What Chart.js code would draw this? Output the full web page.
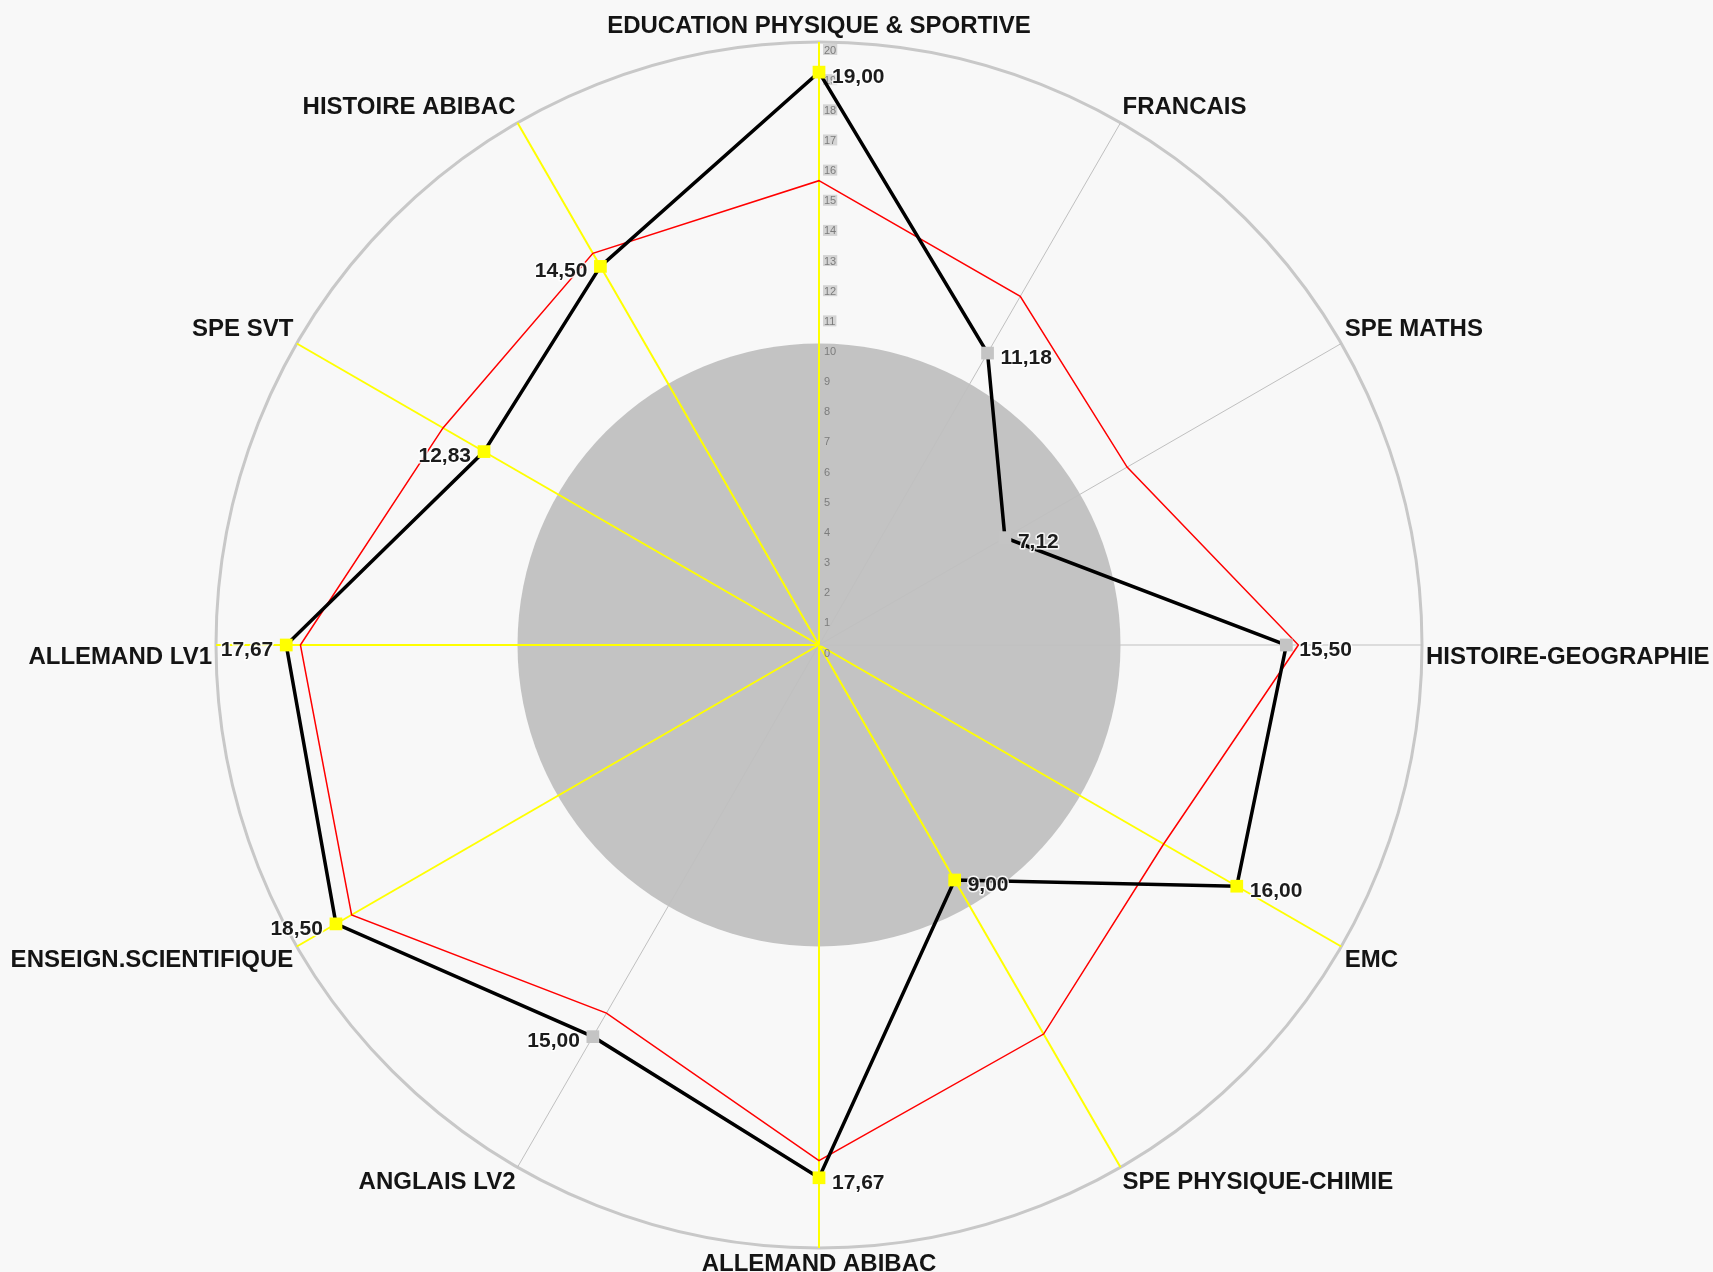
<!DOCTYPE html>
<html lang="fr">
<head>
<meta charset="utf-8">
<title>Profil de l'élève</title>
<script src="https://cdn.jsdelivr.net/npm/chart.js@4.4.1/dist/chart.umd.min.js"></script>
<style>
    html, body { margin: 0; padding: 0; background: #f8f8f8; overflow: hidden; }
    #cadre { position: relative; width: 1713px; height: 1272px; overflow: hidden; background: #f8f8f8; }
    /* zone du graphique plus large que la page : le centre du radar tombe à x=819, y=645 */
    #zone { position: absolute; left: -150px; top: 14px; width: 1938px; height: 1262px; }
</style>
</head>
<body>
<div id="cadre"><div id="zone"><canvas id="radarChart"></canvas></div></div>
<script>
// Matières dans l'ordre des axes (en partant du haut, sens horaire)
const matieres = [
    "EDUCATION PHYSIQUE & SPORTIVE",
    "FRANCAIS",
    "SPE MATHS",
    "HISTOIRE-GEOGRAPHIE",
    "EMC",
    "SPE PHYSIQUE-CHIMIE",
    "ALLEMAND ABIBAC",
    "ANGLAIS LV2",
    "ENSEIGN.SCIENTIFIQUE",
    "ALLEMAND LV1",
    "SPE SVT",
    "HISTOIRE ABIBAC"
];

// Moyennes de l'élève (ligne noire)
const notesEleve = [19.00, 11.18, 7.12, 15.50, 16.00, 9.00, 17.67, 15.00, 18.50, 17.67, 12.83, 14.50];

// Moyennes de la classe (ligne rouge)
const moyenneClasse = [15.4, 13.35, 11.8, 15.9, 13.2, 14.9, 17.1, 14.1, 17.9, 17.2, 14.4, 15.0];

// Axes surlignés en jaune
const axesJaunes = [true, false, false, false, true, true, true, false, true, true, true, true];

// Graduations de l'échelle
const noteMin = 0;
const noteMax = 20;
const pasGraduation = 1;
const seuilMoyenne = 10;

const POLICE = '"Liberation Sans", Arial, sans-serif';

// Disque gris jusqu'à la moyenne (10/20)
const fondDisque = {
    id: 'fondDisque',
    beforeDraw(chart) {
        const ctx = chart.ctx;
        const r = chart.scales.r;
        ctx.save();
        ctx.fillStyle = '#f8f8f8';
        ctx.fillRect(0, 0, chart.width, chart.height);
        ctx.fillStyle = '#c3c3c3';
        ctx.beginPath();
        ctx.arc(r.xCenter, r.yCenter, r.getDistanceFromCenterForValue(seuilMoyenne), 0, Math.PI * 2);
        ctx.fill();
        ctx.restore();
    }
};

// Petites graduations 0..20 le long de l'axe vertical
const graduationsAxe = {
    id: 'graduationsAxe',
    beforeDatasetsDraw(chart) {
        const ctx = chart.ctx;
        const r = chart.scales.r;
        ctx.save();
        ctx.font = '11px ' + POLICE;
        ctx.textAlign = 'left';
        ctx.textBaseline = 'top';
        r.ticks.forEach(t => {
            const x = r.xCenter + 5;
            const y = r.yCenter - r.getDistanceFromCenterForValue(t.value) + 2;
            const w = ctx.measureText(t.label).width;
            if (t.value > seuilMoyenne) {
                ctx.fillStyle = '#d4d4d4';
                ctx.fillRect(x - 1, y, w + 2, 11);
            }
            ctx.fillStyle = '#7c7c7c';
            ctx.fillText(t.label, x, y + 1);
        });
        ctx.restore();
    }
};

// Valeurs de l'élève à côté de chaque point
const etiquettesNotes = {
    id: 'etiquettesNotes',
    afterDatasetsDraw(chart) {
        const ctx = chart.ctx;
        const meta = chart.getDatasetMeta(0);
        ctx.save();
        ctx.font = 'bold 21px ' + POLICE;
        ctx.textBaseline = 'middle';
        ctx.lineJoin = 'round';
        meta.data.forEach((pt, i) => {
            const texte = notesEleve[i].toFixed(2).replace('.', ',');
            const aGauche = i > matieres.length / 2;
            ctx.textAlign = aGauche ? 'right' : 'left';
            const x = pt.x + (aGauche ? -13 : 13);
            const y = pt.y + 5;
            ctx.strokeStyle = 'rgba(255,255,255,0.85)';
            ctx.lineWidth = 3;
            ctx.strokeText(texte, x, y);
            ctx.fillStyle = '#1c1c1c';
            ctx.fillText(texte, x, y);
        });
        ctx.restore();
    }
};

Chart.defaults.font.family = POLICE;

new Chart(document.getElementById('radarChart'), {
    type: 'radar',
    data: {
        labels: matieres,
        datasets: [{
            label: 'Élève',
            data: notesEleve,
            borderColor: '#000000',
            borderWidth: 3.5,
            fill: false,
            pointStyle: 'rect',
            pointRadius: 9,
            pointHoverRadius: 9,
            pointBorderWidth: 0,
            pointBackgroundColor: axesJaunes.map(j => j ? '#ffff00' : '#c4c4c4')
        }, {
            label: 'Classe',
            data: moyenneClasse,
            borderColor: '#ff0000',
            borderWidth: 1.5,
            fill: false,
            pointRadius: 0,
            pointHoverRadius: 0
        }]
    },
    options: {
        responsive: true,
        maintainAspectRatio: false,
        animation: false,
        plugins: {
            legend: { display: false },
            tooltip: { enabled: false }
        },
        elements: { line: { tension: 0 } },
        scales: {
            r: {
                min: noteMin,
                max: noteMax,
                ticks: { stepSize: pasGraduation, display: false },
                grid: {
                    circular: true,
                    color: c => c.tick && c.tick.value === noteMax ? '#c8c8c8' : 'rgba(0,0,0,0)',
                    lineWidth: c => c.tick && c.tick.value === noteMax ? 3 : 0
                },
                angleLines: {
                    color: c => axesJaunes[c.index] ? '#ffff00' : '#c0c0c0',
                    lineWidth: c => axesJaunes[c.index] ? 2 : 1
                },
                pointLabels: {
                    color: '#141414',
                    padding: 4,
                    font: { family: POLICE, size: 24, weight: 'bold', lineHeight: 1 },
                    // les libellés des axes horizontaux sont posés juste sous l'axe
                    callback: (label, i) => (i === 3 || i === 9) ? ['', label] : label
                }
            }
        }
    },
    plugins: [fondDisque, graduationsAxe, etiquettesNotes]
});
</script>
</body>
</html>
